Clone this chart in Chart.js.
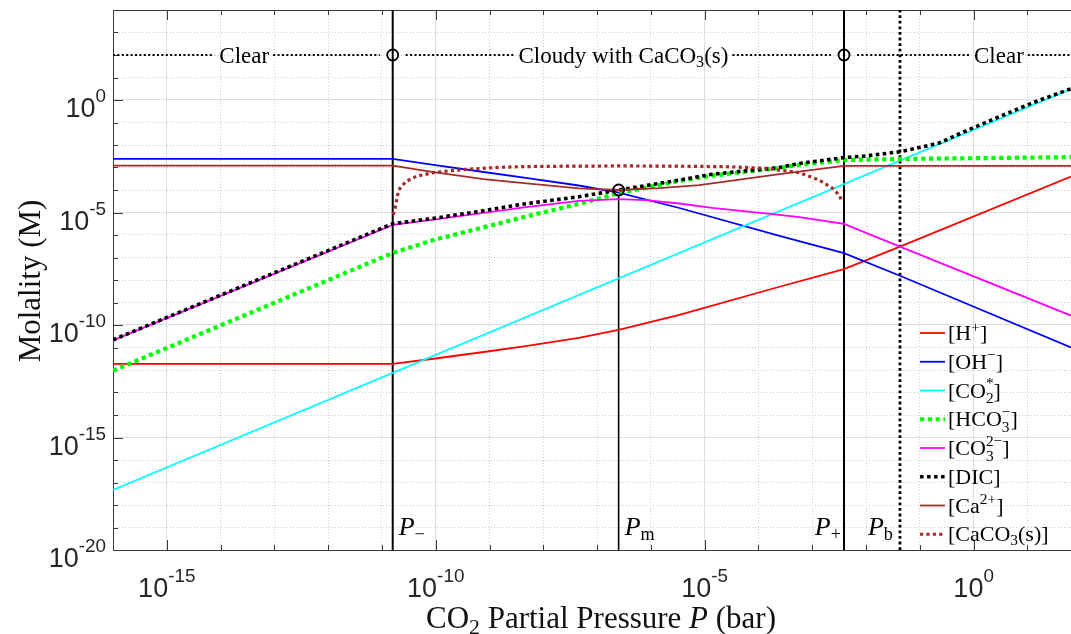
<!doctype html>
<html>
<head>
<meta charset="utf-8">
<title>Carbonate speciation vs CO2 pressure</title>
<script src="https://cdn.jsdelivr.net/npm/chart.js@4.4.1"></script>
<style>
	* { margin: 0; padding: 0; }
	body { background: #fff; }
	#chart { display: block; }
</style>
</head>
<body>
<canvas id="chart" width="1071" height="634"></canvas>
<script>
// values, as exponents: log10 P (bar) and log10 molality (M)
var hP = [-16, -10.8, -10.04, -9.11, -8.36, -7.34, -6.6, -5.47, -3.61, -2.41, -1.37, 1.81];
var hM = [-11.73, -11.73, -11.5, -11.2, -10.95, -10.57, -10.22, -9.55, -8.3, -7.52, -6.52, -3.4];

var ohP = [-16, -10.8, -10.04, -9.11, -8.36, -7.34, -6.6, -5.47, -3.61, -2.41, -1.37, 1.81];
var ohM = [-2.62, -2.62, -2.88, -3.2, -3.45, -3.8, -4.12, -4.8, -6.04, -6.81, -7.81, -11.0];

var co2P = [-16, 1.81];
var co2M = [-17.33, 0.49];

var hco3P = [-16, -10.8, -10.04, -9.11, -8.36, -7.34, -6.6, -5.47, -4.86, -3.61, -3.24, -2.41, -1.37, 1.81];
var hco3M = [-12.03, -6.8, -6.22, -5.66, -5.2, -4.62, -4.14, -3.6, -3.36, -3.02, -2.88, -2.67, -2.62, -2.54];

var co3P = [-16, -10.8, -10.04, -9.11, -8.36, -7.34, -6.6, -6.1, -5.47, -4.86, -3.61, -3.24, -2.41, -1.37, 1.81];
var co3M = [-10.68, -5.55, -5.32, -5.02, -4.77, -4.48, -4.41, -4.45, -4.6, -4.79, -5.11, -5.21, -5.51, -6.52, -9.58];

var dicP = [-16, -10.8, -10.04, -9.11, -8.36, -7.34, -6.6, -5.47, -4.86, -3.61, -3.24, -2.41, -1.98, -1.37, -1.07, -0.63, -0.15, 0.48, 1.1, 1.81];
var dicM = [-10.66, -5.5, -5.26, -4.92, -4.62, -4.3, -4.0, -3.56, -3.3, -3.0, -2.82, -2.56, -2.48, -2.3, -2.15, -1.9, -1.38, -0.74, -0.12, 0.5];

var caP = [-16, -10.8, -10.04, -9.11, -8.36, -7.34, -6.6, -5.84, -5.1, -3.61, -2.41, 1.81];
var caM = [-2.92, -2.92, -3.21, -3.52, -3.69, -3.93, -4.0, -3.92, -3.78, -3.29, -2.93, -2.93];

var caco3P = [-10.79, -10.76, -10.69, -10.56, -10.35, -10.04, -9.73, -9.35, -8.8, -8.36, -7.5, -6.5, -5.5, -4.5, -3.86, -3.24, -2.87, -2.62, -2.5, -2.44];
var caco3M = [-5.1, -4.86, -4.0, -3.63, -3.38, -3.23, -3.14, -3.07, -2.99, -2.96, -2.94, -2.93, -2.94, -2.97, -3.04, -3.23, -3.56, -3.93, -4.22, -4.55];

// boundaries P-, Pm, P+, Pb and the marked points
var boundaryP = [-10.8, -6.6, -2.41, -1.37];
var boundaryNames = ['$P$_−', '$P$_m', '$P$_+', '$P$_b'];
var pmLineTop = -4.25;
var circleP = [-10.8, -6.6, -2.41];
var circleM = [2, -4, 2];
var regionNames = ['Clear', 'Cloudy with CaCO_3(s)', 'Clear'];

var xTickExp = [-15, -10, -5, 0];
var xTickLabels = ['10^{-15}', '10^{-10}', '10^{-5}', '10^{0}'];
var yTickExp = [-20, -15, -10, -5, 0];
var yTickLabels = ['10^{-20}', '10^{-15}', '10^{-10}', '10^{-5}', '10^{0}'];

var SERIF = "'Liberation Serif', 'Times New Roman', serif";
var SANS = "'Liberation Sans', Arial, sans-serif";

function pts(px, my) {
	return px.map(function (p, i) { return {x: Math.pow(10, p), y: Math.pow(10, my[i])}; });
}

// tiny markup: _x / _{..} subscript, ^x / ^{..} superscript, $..$ italic
function parseRich(s) {
	var out = [], i = 0, it = false, buf = '';
	function flush() { if (buf) { out.push({t: buf, it: it}); buf = ''; } }
	function grab() {
		if (s[i] === '{') { var j = s.indexOf('}', i); var g = s.slice(i + 1, j); i = j + 1; return g; }
		return s[i++];
	}
	while (i < s.length) {
		var c = s[i];
		if (c === '$') { flush(); it = !it; i++; }
		else if (c === '_' || c === '^') {
			flush(); i++;
			var tok = {};
			tok[c === '_' ? 'sub' : 'sup'] = grab();
			if (s[i] === '_' || s[i] === '^') { var c2 = s[i]; i++; tok[c2 === '_' ? 'sub' : 'sup'] = grab(); }
			out.push(tok);
		} else { buf += c; i++; }
	}
	flush();
	return out;
}

function drawRich(ctx, s, x, y, o) {
	var parts = parseRich(s);
	var size = o.size, ss = size * (o.supScale || 0.7);
	function font(sz, it) { return (it ? 'italic ' : '') + sz + 'px ' + o.family; }
	var widths = parts.map(function (p) {
		if (p.t !== undefined) { ctx.font = font(size, p.it); return ctx.measureText(p.t).width; }
		ctx.font = font(ss, false);
		return Math.max(p.sub ? ctx.measureText(p.sub).width : 0, p.sup ? ctx.measureText(p.sup).width : 0);
	});
	var total = widths.reduce(function (a, b) { return a + b; }, 0);
	if (o.measure) return total;
	var cx = o.align === 'center' ? x - total / 2 : (o.align === 'right' ? x - total : x);
	ctx.save();
	ctx.textAlign = 'left';
	ctx.textBaseline = 'alphabetic';
	ctx.fillStyle = o.color || '#000';
	parts.forEach(function (p, k) {
		if (p.t !== undefined) {
			ctx.font = font(size, p.it);
			ctx.fillText(p.t, cx, y);
		} else {
			ctx.font = font(ss, false);
			var both = p.sub && p.sup;
			if (p.sup) ctx.fillText(p.sup, cx, y - size * (o.supRaise || (both ? 0.42 : 0.38)));
			if (p.sub) ctx.fillText(p.sub, cx, y + size * (both ? 0.25 : (o.subDrop || 0.18)));
		}
		cx += widths[k];
	});
	ctx.restore();
	return total;
}

function line(ctx, x1, y1, x2, y2) {
	ctx.beginPath(); ctx.moveTo(x1, y1); ctx.lineTo(x2, y2); ctx.stroke();
}

function decades(lo, hi) {
	var t = [];
	for (var e = lo; e <= hi; e++) t.push({value: Math.pow(10, e)});
	return t;
}

function isLabelled(v) {
	return Math.round(Math.log10(v)) % 5 === 0;
}

var datasets = [
	{label: '[H^+]', data: pts(hP, hM), borderColor: '#ff0000', borderWidth: 1.8},
	{label: '[OH^−]', data: pts(ohP, ohM), borderColor: '#0000ff', borderWidth: 1.8},
	{label: '[CO_2^*]', data: pts(co2P, co2M), borderColor: '#00ffff', borderWidth: 1.8},
	{label: '[HCO_3^−]', data: pts(hco3P, hco3M), borderColor: '#00ff00', borderWidth: 4.2, borderDash: [4.2, 3.6]},
	{label: '[CO_3^{2−}]', data: pts(co3P, co3M), borderColor: '#ff00ff', borderWidth: 1.8},
	{label: '[DIC]', data: pts(dicP, dicM), borderColor: '#000000', borderWidth: 3.6, borderDash: [3.6, 3.4]},
	{label: '[Ca^{2+}]', data: pts(caP, caM), borderColor: '#a52a2a', borderWidth: 1.8},
	{label: '[CaCO_3(s)]', data: pts(caco3P, caco3M), borderColor: '#a52a2a', borderWidth: 3.2, borderDash: [3.2, 3.2]}
];
datasets.forEach(function (d, i) { d.order = 20 - i; });

// boundary lines: P-, Pm (up to its circle), P+, and dotted Pb
datasets.push({data: pts([boundaryP[0], boundaryP[0]], [-20, 4]), borderColor: '#000', borderWidth: 2, order: 30});
datasets.push({data: pts([boundaryP[1], boundaryP[1]], [-20, pmLineTop]), borderColor: '#000', borderWidth: 1.6, order: 30});
datasets.push({data: pts([boundaryP[2], boundaryP[2]], [-20, 4]), borderColor: '#000', borderWidth: 2, order: 30});
datasets.push({data: pts([boundaryP[3], boundaryP[3]], [-20, 4]), borderColor: '#000', borderWidth: 2.8, borderDash: [2.8, 2.8], order: 30});
datasets.push({data: pts(circleP, circleM), showLine: false, pointRadius: 5.5, pointBorderWidth: 1.8,
	pointBorderColor: '#000', pointBackgroundColor: 'rgba(0,0,0,0)', borderColor: '#000', order: 0});

var axesDecor = {
	id: 'axesDecor',
	beforeDatasetsDraw: function (chart) {
		var ctx = chart.ctx, a = chart.chartArea, xs = chart.scales.x, ys = chart.scales.y;
		ctx.save();
		ctx.strokeStyle = '#3a3a3a';
		ctx.lineWidth = 1;
		// box (right side falls outside the picture)
		line(ctx, a.left + 0.5, a.top, a.left + 0.5, a.bottom + 0.5);
		line(ctx, a.left, a.bottom + 0.5, a.right, a.bottom + 0.5);
		line(ctx, a.left, a.top + 0.5, a.right, a.top + 0.5);
		// inward ticks
		xs.ticks.forEach(function (t) {
			var px = Math.round(xs.getPixelForValue(t.value)) + 0.5;
			var len = isLabelled(t.value) ? 10 : 5;
			line(ctx, px, a.bottom, px, a.bottom - len);
			line(ctx, px, a.top, px, a.top + len);
		});
		ys.ticks.forEach(function (t) {
			var py = Math.round(ys.getPixelForValue(t.value)) + 0.5;
			var len = isLabelled(t.value) ? 10 : 5;
			line(ctx, a.left, py, a.left + len, py);
		});
		ctx.restore();

		// tick labels
		xTickExp.forEach(function (e, i) {
			drawRich(ctx, xTickLabels[i], xs.getPixelForValue(Math.pow(10, e)), a.bottom + 47,
				{size: 27, family: SANS, color: '#262626', align: 'center', supRaise: 0.555});
		});
		yTickExp.forEach(function (e, i) {
			drawRich(ctx, yTickLabels[i], a.left - 7, ys.getPixelForValue(Math.pow(10, e)) + 17,
				{size: 27, family: SANS, color: '#262626', align: 'right', supRaise: 0.555});
		});

		// axis titles
		drawRich(ctx, 'CO_2 Partial Pressure $P$ (bar)', (a.left + a.right) / 2 + 9, a.bottom + 78,
			{size: 31, family: SERIF, color: '#111', align: 'center', subDrop: 0.2});
		ctx.save();
		ctx.translate(a.left - 73, (a.top + a.bottom) / 2 + 1);
		ctx.rotate(-Math.PI / 2);
		drawRich(ctx, 'Molality (M)', 0, 0, {size: 31, family: SERIF, color: '#111', align: 'center'});
		ctx.restore();
	},
	afterDatasetsDraw: function (chart) {
		var ctx = chart.ctx, a = chart.chartArea, xs = chart.scales.x, ys = chart.scales.y;

		// dotted region line along the top, broken round the texts and circles
		var ly = ys.getPixelForValue(1e2);
		var regionAt = [-13.56, -6.51, 0.47];
		var lab = {size: 23, family: SERIF, color: '#000', align: 'center', subDrop: 0.2};
		var gaps = [];
		regionNames.forEach(function (s, i) {
			var cx = xs.getPixelForValue(Math.pow(10, regionAt[i]));
			var w = drawRich(ctx, s, 0, 0, Object.assign({measure: true}, lab));
			gaps.push([cx - w / 2 - 5, cx + w / 2 + 4]);
			drawRich(ctx, s, cx, ly + 7.5, lab);
		});
		[boundaryP[0], boundaryP[2]].forEach(function (e) {
			var cx = xs.getPixelForValue(Math.pow(10, e));
			gaps.push([cx - 13, cx + 13]);
		});
		gaps.sort(function (p, q) { return p[0] - q[0]; });
		ctx.save();
		ctx.strokeStyle = '#000';
		ctx.lineWidth = 2;
		ctx.setLineDash([2, 2.4]);
		var x0 = a.left;
		gaps.forEach(function (g) { if (g[0] > x0) line(ctx, x0, ly, g[0], ly); x0 = g[1]; });
		line(ctx, x0, ly, a.right, ly);
		ctx.restore();

		// boundary names near the bottom
		var pl = {size: 26, family: SERIF, color: '#000', subDrop: 0.2};
		var bx = boundaryP.map(function (e) { return xs.getPixelForValue(Math.pow(10, e)); });
		drawRich(ctx, boundaryNames[0], bx[0] + 6, a.bottom - 15, Object.assign({align: 'left'}, pl));
		drawRich(ctx, boundaryNames[1], bx[1] + 6, a.bottom - 15, Object.assign({align: 'left'}, pl));
		drawRich(ctx, boundaryNames[2], bx[2] - 3, a.bottom - 15, Object.assign({align: 'right'}, pl));
		drawRich(ctx, boundaryNames[3], bx[3] - 7, a.bottom - 15, Object.assign({align: 'right'}, pl));

		// legend, no box
		var lx = a.right - 151;
		chart.data.datasets.slice(0, 8).forEach(function (ds, i) {
			var y = a.bottom - 217 + i * 28.75;
			ctx.save();
			ctx.strokeStyle = ds.borderColor;
			ctx.lineWidth = ds.borderWidth;
			ctx.setLineDash(ds.borderDash || []);
			line(ctx, lx, y, lx + 25, y);
			ctx.restore();
			drawRich(ctx, ds.label, lx + 28, y + 7, {size: 22, family: SERIF, color: '#000', align: 'left'});
		});
	}
};

var chart = new Chart(document.getElementById('chart'), {
	type: 'line',
	data: {datasets: datasets},
	options: {
		responsive: false,
		animation: false,
		devicePixelRatio: 1,
		layout: {autoPadding: false, padding: {left: 113, top: 10, right: 0, bottom: 84}},
		elements: {
			point: {radius: 0, hoverRadius: 0},
			line: {tension: 0, fill: false}
		},
		plugins: {
			legend: {display: false},
			tooltip: {enabled: false}
		},
		scales: {
			x: {
				type: 'logarithmic',
				min: 1e-16,
				max: Math.pow(10, 1.81),
				afterBuildTicks: function (s) { s.ticks = decades(-16, 1); },
				afterFit: function (s) { s.height = 0; },
				ticks: {display: false},
				grid: {
					drawTicks: false,
					lineWidth: 1,
					color: function (c) { return c.tick && isLabelled(c.tick.value) ? '#dedede' : '#cbcbcb'; }
				},
				border: {
					display: false,
					dash: function (c) { return c.tick && isLabelled(c.tick.value) ? [] : [1, 2]; }
				}
			},
			y: {
				type: 'logarithmic',
				min: 1e-20,
				max: 1e4,
				afterBuildTicks: function (s) { s.ticks = decades(-20, 4); },
				afterFit: function (s) { s.width = 0; },
				ticks: {display: false},
				grid: {
					drawTicks: false,
					lineWidth: 1,
					color: function (c) { return c.tick && isLabelled(c.tick.value) ? '#dedede' : '#cbcbcb'; }
				},
				border: {
					display: false,
					dash: function (c) { return c.tick && isLabelled(c.tick.value) ? [] : [1, 2]; }
				}
			}
		}
	},
	plugins: [axesDecor]
});
</script>
</body>
</html>
